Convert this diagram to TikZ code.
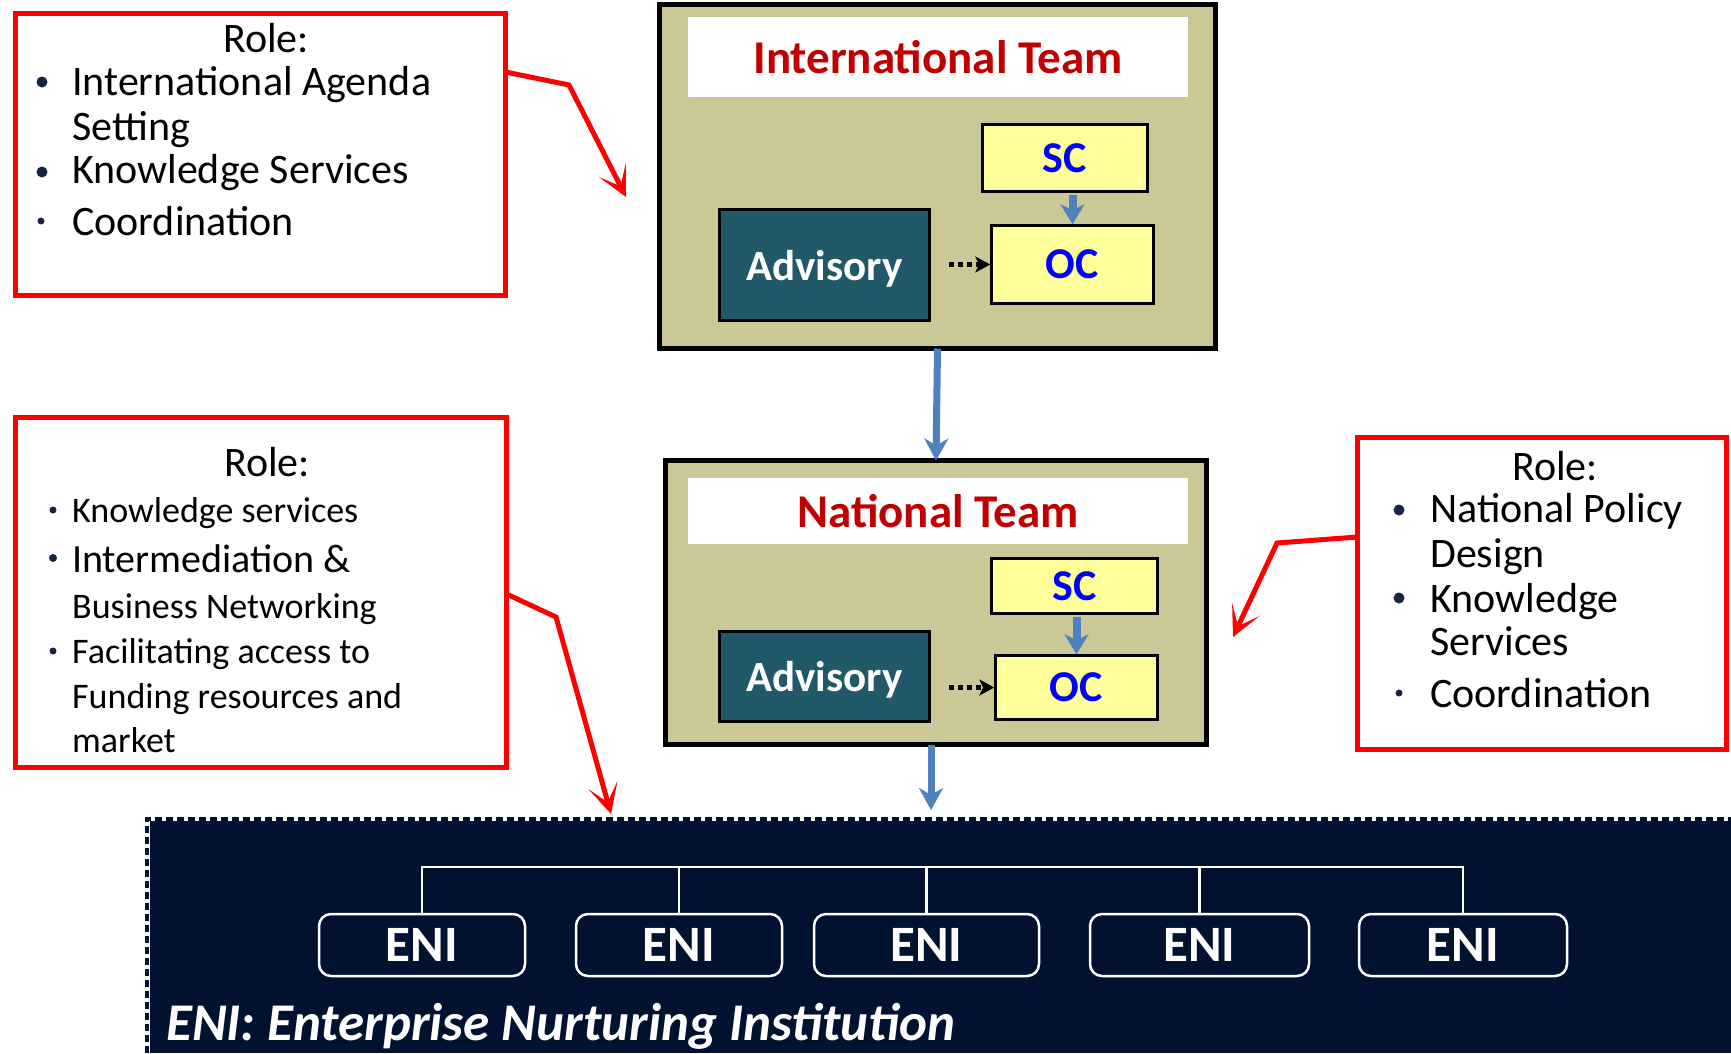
\documentclass[tikz,border=0pt]{standalone}
\usepackage{fontspec}
\setmainfont{Carlito}
\usetikzlibrary{arrows.meta}
\definecolor{olivebg}{RGB}{201,200,150}
\definecolor{advfill}{RGB}{33,89,104}
\definecolor{yelfill}{RGB}{255,255,153}
\definecolor{titlered}{RGB}{192,0,0}
\definecolor{navybg}{RGB}{1,17,48}
\definecolor{arrowblue}{RGB}{79,129,189}
\definecolor{bulletcol}{RGB}{23,35,64}
\begin{document}
\begin{tikzpicture}[x=1pt,y=-1pt,
  rolebox/.style={draw=red, line width=5pt, inner sep=0pt, outer sep=0pt, rectangle},
  teambox/.style={draw=black, fill=olivebg, line width=5pt, inner sep=0pt, outer sep=0pt},
  titlebar/.style={fill=white, inner sep=0pt, font=\fontsize{47}{56}\selectfont\bfseries, text=titlered},
  ybox/.style={draw=black, fill=yelfill, line width=2.5pt, inner sep=0pt, font=\fontsize{44}{52}\selectfont\bfseries, text=blue},
  advbox/.style={draw=black, fill=advfill, line width=2.5pt, inner sep=0pt, font=\fontsize{43}{52}\selectfont\bfseries, text=white, text depth=0pt},
  rtxt/.style={anchor=base west, inner sep=0pt, font=\fontsize{42}{50}\selectfont},
  rhead/.style={anchor=base, inner sep=0pt, font=\fontsize{42}{50}\selectfont},
  stxt/.style={anchor=base west, inner sep=0pt, font=\fontsize{36}{43}\selectfont},
  mtxt/.style={anchor=base west, inner sep=0pt, font=\fontsize{40}{48}\selectfont},
  bul/.style={circle, fill=bulletcol, inner sep=0pt, minimum size=#1},
  redarrow/.style={draw=red, line width=5pt, -{Stealth[length=30pt,width=30pt,inset=18pt]}},
  bluearrow/.style={draw=arrowblue, line width=7pt, -{Stealth[length=22pt,width=24pt,inset=7pt]}},
  shortblue/.style={draw=arrowblue, line width=8pt, -{Stealth[length=20pt,width=24pt,inset=6pt]}},
  dotarrow/.style={draw=black, line width=5pt, dash pattern=on 5pt off 4pt, -{Stealth[length=15pt,width=16pt,inset=4pt]}},
  eni/.style={draw=white, fill=navybg, line width=2.5pt, rounded corners=12pt, inner sep=0pt, minimum height=62pt, text=white, font=\fontsize{51}{60}\selectfont\bfseries},
  tree/.style={draw=white, line width=2.5pt}
]
\useasboundingbox (0,0) rectangle (1731,1053);
\fill[white] (0,0) rectangle (1731,1053);

% ENI background area
\node[fill=navybg, inner sep=0pt, outer sep=0pt, minimum width=1581pt, minimum height=232pt] (eniarea) at (940.5,937) {};
\draw[navybg, line width=4pt, dash pattern=on 7pt off 4pt] (147,1053) -- (147,819) -- (1731,819);

% International team
\node[teambox, minimum width=556pt, minimum height=344pt] (intl) at (937.5,176.5) {};
\node[titlebar, minimum width=500pt, minimum height=80pt] (intlt) at (938,57) {International Team};
\node[ybox, minimum width=165pt, minimum height=67pt] (sc1) at (1065,158) {SC};
\node[ybox, minimum width=162pt, minimum height=78pt] (oc1) at (1072.5,264.5) {OC};
\node[advbox, minimum width=210pt, minimum height=111pt] (adv1) at (824.5,265) {Advisory};

% National team
\node[teambox, minimum width=541pt, minimum height=284pt] (nat) at (936,602.5) {};
\node[titlebar, minimum width=500pt, minimum height=66pt] (natt) at (938,511) {National Team};
\node[ybox, minimum width=166pt, minimum height=55pt] (sc2) at (1074.5,586) {SC};
\node[ybox, minimum width=162pt, minimum height=64pt] (oc2) at (1076.5,687.5) {OC};
\node[advbox, minimum width=210pt, minimum height=90pt] (adv2) at (824.5,676.5) {Advisory};

% inner arrows
\draw[shortblue] ([yshift=-2pt]oc1.north |- sc1.south) -- (oc1.north);
\draw[shortblue] ([yshift=-2pt]oc2.north |- sc2.south) -- (oc2.north);
\draw[dotarrow, shorten <=18pt] (adv1.east |- oc1.west) -- (oc1.west);
\draw[dotarrow, shorten <=18pt] (adv2.east |- oc2.west) -- (oc2.west);

% team arrows
\draw[bluearrow] (intl.south) -- (nat.north);
\coordinate (eniin) at (931,810);
\draw[bluearrow] (nat.south -| eniin) -- (eniin);

% Role box 1
\node[rolebox, minimum width=490pt, minimum height=282pt] (rb1) at (260.5,154.5) {};
\node[rhead] (r1h) at (266,52) {Role:};
\node[bul=11pt] (b11) at (42,82) {};
\node[rtxt] (r1a) at (72,95) {International Agenda};
\node[rtxt] (r1b) at (72,140) {Setting};
\node[bul=11pt] (b12) at (42,172) {};
\node[rtxt] (r1c) at (72,183) {Knowledge Services};
\node[bul=7pt] (b13) at (41,221) {};
\node[rtxt] (r1d) at (72,235) {Coordination};

% Role box 2
\node[rolebox, minimum width=491pt, minimum height=350pt] (rb2) at (261,592.5) {};
\node[rhead] (r2h) at (267,476) {Role:};
\node[bul=7pt] (b21) at (53,510) {};
\node[stxt] (r2a) at (72,522) {Knowledge services};
\node[bul=8pt] (b22) at (53,558) {};
\node[mtxt] (r2b) at (72,572) {Intermediation \&};
\node[stxt] (r2c) at (72,618) {Business Networking};
\node[bul=7pt] (b23) at (53,651) {};
\node[stxt] (r2d) at (72,663) {Facilitating access to};
\node[stxt] (r2e) at (72,708) {Funding resources and};
\node[stxt] (r2f) at (72,752) {market};

% Role box 3
\node[rolebox, minimum width=369pt, minimum height=312pt] (rb3) at (1542,593.5) {};
\node[rhead] (r3h) at (1555,480) {Role:};
\node[bul=11pt] (b31) at (1399,510) {};
\node[rtxt] (r3a) at (1430,522) {National Policy};
\node[rtxt] (r3b) at (1430,567) {Design};
\node[bul=11pt] (b32) at (1399,598) {};
\node[rtxt] (r3c) at (1430,612) {Knowledge};
\node[rtxt] (r3d) at (1430,655) {Services};
\node[bul=7pt] (b33) at (1399,693) {};
\node[rtxt] (r3e) at (1430,707) {Coordination};

% red arrows
\coordinate (a1m) at (569,85);
\coordinate (a1e) at (626,197);
\draw[redarrow] (rb1.east |- 0,72) -- (a1m) -- (a1e);
\coordinate (a2m) at (556,617);
\coordinate (a2e) at (611,814);
\draw[redarrow] (rb2.east |- 0,594) -- (a2m) -- (a2e);
\coordinate (a3m) at (1277,543);
\coordinate (a3e) at (1233,637);
\draw[redarrow] (rb3.west |- 0,537) -- (a3m) -- (a3e);

% ENI boxes
\node[eni, minimum width=206pt] (e1) at (422,945) {ENI};
\node[eni, minimum width=206pt] (e2) at (679,945) {ENI};
\node[eni, minimum width=225pt] (e3) at (926.5,945) {ENI};
\node[eni, minimum width=219pt] (e4) at (1199.5,945) {ENI};
\node[eni, minimum width=208pt] (e5) at (1463,945) {ENI};
\draw[tree] (e1.north) -- ++(0,-46) -| (e5.north);
\draw[tree] (e2.north) -- ++(0,-46);
\draw[tree] (e3.north) -- ++(0,-46);
\draw[tree] (e4.north) -- ++(0,-46);

\node[anchor=base west, inner sep=0pt, text=white, font=\fontsize{53}{62}\selectfont\bfseries\itshape] (lbl) at (166,1040) {ENI: Enterprise Nurturing Institution};
\end{tikzpicture}
\end{document}
